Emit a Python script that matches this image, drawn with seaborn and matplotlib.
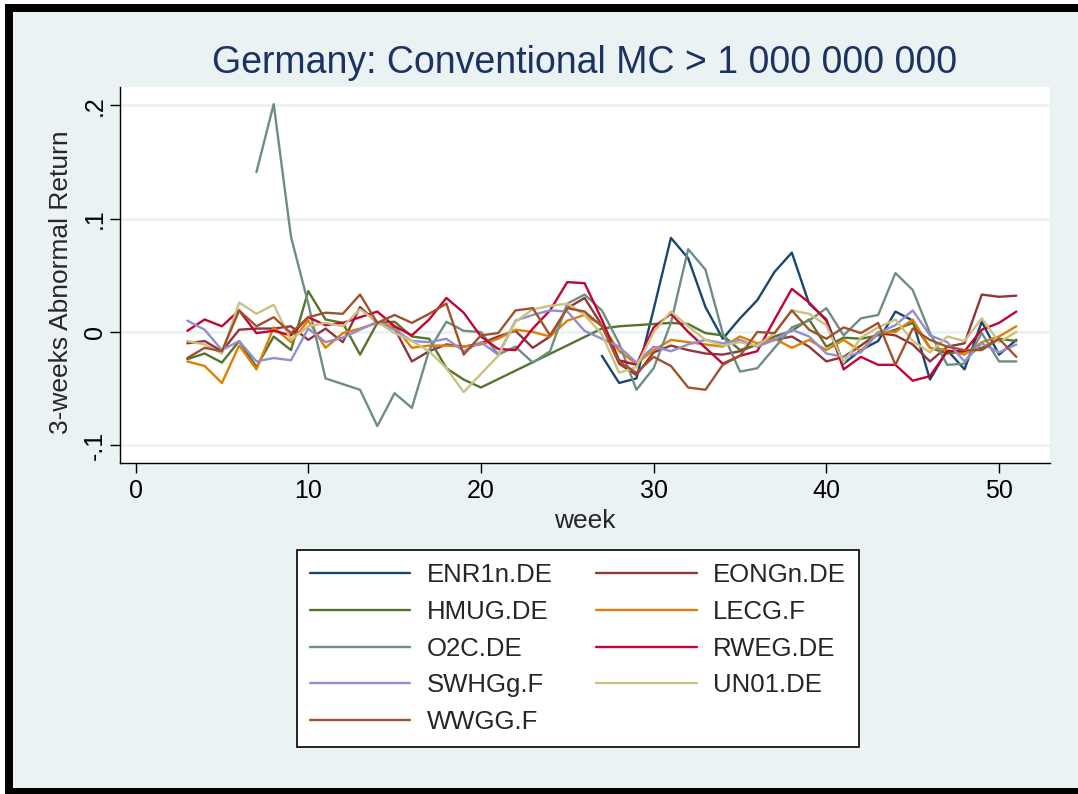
"""
Germany: conventional firms with market cap above 1bn,
weekly 3-weeks abnormal returns per stock (Stata s2color look).
"""

import numpy as np
import pandas as pd
import matplotlib
matplotlib.use("Agg")
import matplotlib.pyplot as plt
from matplotlib.lines import Line2D
from matplotlib.patches import Rectangle
import seaborn as sns

nan = np.nan

# x values
weeks = [3, 4, 5, 6, 7, 8, 9, 10, 11, 12, 13, 14, 15, 16, 17, 18, 19, 20, 21, 22,
         23, 24, 25, 26, 27, 28, 29, 30, 31, 32, 33, 34, 35, 36, 37, 38, 39, 40, 41, 42,
         43, 44, 45, 46, 47, 48, 49, 50, 51]

# one list per stock, weeks 3..51 (nan = no observation)
enr1n_de = [nan] * 24 + [
    -0.021, -0.045, -0.041, 0.020, 0.083, 0.065, 0.022, -0.006, 0.012, 0.028,
    0.053, 0.070, 0.025, 0.011, -0.028, -0.016, -0.008, 0.018, 0.010, -0.042,
    -0.016, -0.033, 0.009, -0.020, -0.007]
eongn_de = [
    -0.010, -0.008, -0.017, 0.002, 0.003, 0.003, 0.005, -0.007, 0.003, -0.009,
    0.022, 0.008, 0.003, -0.026, -0.017, -0.011, -0.013, -0.010, -0.004, 0.001,
    -0.014, -0.004, 0.021, 0.030, 0.006, -0.028, -0.038, -0.018, -0.012, -0.016,
    -0.019, -0.020, -0.017, -0.011, -0.007, -0.004, -0.013, -0.026, -0.022, -0.012,
    -0.001, -0.003, -0.011, -0.026, -0.013, -0.010, 0.033, 0.031, 0.032]
hmug_de = [
    -0.024, -0.019, -0.027, -0.008, -0.031, -0.004, -0.016, 0.036, 0.011, 0.008,
    -0.020, 0.008, 0.009, -0.004, -0.006, -0.032, -0.042, -0.049, nan, nan,
    nan, nan, nan, nan, 0.003, 0.005, 0.006, 0.007, 0.008, 0.007,
    -0.001, -0.003, -0.016, -0.011, -0.004, 0.001, 0.011, -0.013, -0.005, -0.006,
    -0.003, 0.002, 0.008, -0.014, -0.019, -0.017, -0.014, -0.006, -0.008]
lecg_f = [
    -0.026, -0.030, -0.045, -0.012, -0.033, 0.004, -0.009, 0.010, -0.014, -0.001,
    0.003, 0.008, 0.005, -0.014, -0.012, -0.012, -0.013, -0.011, -0.006, 0.002,
    0.000, -0.004, 0.010, 0.015, 0.006, -0.017, -0.028, -0.016, -0.007, -0.009,
    -0.011, -0.013, -0.004, -0.010, -0.006, -0.014, -0.007, -0.016, -0.007, -0.017,
    0.000, 0.000, 0.011, -0.014, -0.016, -0.020, -0.009, -0.004, 0.005]
o2c_de = [
    nan, nan, nan, nan, 0.141, 0.201, 0.084, 0.025, -0.041, -0.046,
    -0.051, -0.083, -0.054, -0.067, -0.016, 0.009, 0.001, 0.000, -0.020, -0.013,
    -0.027, -0.017, 0.025, 0.033, 0.019, -0.010, -0.051, -0.032, 0.008, 0.073,
    0.055, -0.001, -0.035, -0.032, -0.014, 0.004, 0.010, 0.021, -0.003, 0.012,
    0.015, 0.052, 0.037, -0.001, -0.029, -0.028, -0.001, -0.026, -0.026]
rweg_de = [
    0.001, 0.011, 0.005, 0.019, -0.001, 0.001, -0.003, 0.013, 0.006, 0.008,
    0.013, 0.018, 0.005, -0.003, 0.011, 0.030, 0.017, -0.004, -0.015, -0.016,
    0.003, 0.019, 0.044, 0.043, 0.011, -0.025, -0.029, 0.004, 0.016, 0.000,
    -0.014, -0.028, -0.021, -0.017, 0.011, 0.038, 0.026, 0.010, -0.033, -0.022,
    -0.029, -0.029, -0.043, -0.039, -0.017, -0.017, 0.002, 0.008, 0.018]
swhgg_f = [
    0.010, 0.002, -0.016, -0.008, -0.026, -0.023, -0.025, 0.003, -0.009, -0.005,
    0.002, 0.009, 0.002, -0.008, -0.009, -0.006, -0.017, -0.009, -0.020, 0.010,
    0.015, 0.019, 0.018, 0.001, -0.006, -0.013, -0.027, -0.013, -0.017, -0.011,
    -0.007, -0.010, -0.007, -0.013, -0.007, 0.002, -0.004, -0.019, -0.022, -0.018,
    -0.001, 0.006, 0.019, -0.003, -0.009, -0.026, -0.010, -0.018, -0.011]
un01_de = [
    -0.008, -0.011, -0.019, 0.026, 0.016, 0.024, -0.007, 0.005, 0.008, 0.005,
    0.020, 0.009, -0.001, -0.008, -0.017, -0.032, -0.053, -0.037, -0.021, 0.009,
    0.020, 0.023, 0.025, 0.015, -0.002, -0.036, -0.031, 0.000, 0.018, 0.005,
    -0.007, -0.012, -0.009, -0.012, -0.001, 0.019, 0.016, 0.006, -0.027, -0.005,
    0.004, 0.011, -0.008, -0.018, -0.004, -0.008, 0.012, -0.009, 0.000]
wwgg_f = [
    -0.023, -0.014, -0.017, 0.019, 0.005, 0.013, -0.001, 0.013, 0.017, 0.016,
    0.033, 0.008, 0.015, 0.008, 0.016, 0.025, -0.020, -0.003, -0.001, 0.019,
    0.021, -0.003, 0.021, 0.018, 0.005, -0.026, -0.036, -0.022, -0.030, -0.049,
    -0.051, -0.029, -0.021, 0.000, -0.001, 0.019, 0.002, -0.006, 0.004, -0.001,
    0.008, -0.029, 0.003, -0.007, -0.013, -0.016, -0.016, -0.006, -0.022]

tickers = ["ENR1n.DE", "EONGn.DE", "HMUG.DE", "LECG.F", "O2C.DE",
           "RWEG.DE", "SWHGg.F", "UN01.DE", "WWGG.F"]
series = [enr1n_de, eongn_de, hmug_de, lecg_f, o2c_de,
          rweg_de, swhgg_f, un01_de, wwgg_f]

# stata s2color palette
colors = ["#1A476F", "#90353B", "#55752F", "#E37E00", "#6E8E84",
          "#C10534", "#938DD2", "#CAC27E", "#A0522D"]

y_ticks = [-0.1, 0.0, 0.1, 0.2]
y_tick_labels = ["-.1", "0", ".1", ".2"]
x_ticks = [0, 10, 20, 30, 40, 50]

BG = "#EAF2F3"
W, H = 1078, 794

# Build long table, missing weeks dropped so lines connect (stata default)
frames = []
for name, vals in zip(tickers, series):
    frames.append(pd.DataFrame({"week": weeks, "ret": vals, "ticker": name}))
df = pd.concat(frames, ignore_index=True).dropna()

sns.set_style("white")
plt.rcParams["font.family"] = ["Liberation Sans", "DejaVu Sans"]

fig = plt.figure(figsize=(W / 100, H / 100), dpi=100)
fig.patch.set_facecolor(BG)

# plot region in pixels: x 120..1050, y 87..463
ax = fig.add_axes([120 / W, (H - 463) / H, 930 / W, 376 / H])
ax.set_facecolor("white")

sns.lineplot(data=df, x="week", y="ret", hue="ticker", hue_order=tickers,
             palette=colors, estimator=None, linewidth=1.7, legend=False, ax=ax)

ax.set_xlim(-0.9, 52.95)
ax.set_ylim(-0.1156, 0.2161)
ax.set_xticks(x_ticks)
ax.set_yticks(y_ticks, labels=y_tick_labels)
ax.yaxis.grid(True, color=BG, linewidth=2)
ax.xaxis.grid(False)
ax.set_axisbelow(True)

for side in ["top", "right"]:
    ax.spines[side].set_visible(False)
for side in ["left", "bottom"]:
    ax.spines[side].set_color("black")
    ax.spines[side].set_linewidth(1.0)

ax.tick_params(direction="out", length=7.5, width=1, color="black",
               labelsize=18, labelcolor="black", left=True, bottom=True)
ax.tick_params(axis="x", pad=4)
ax.tick_params(axis="y", labelrotation=90, pad=2)
for lbl in ax.get_yticklabels():
    lbl.set_va("center")

ax.set_xlabel("week", fontsize=19, labelpad=4)
ax.set_ylabel("3-weeks Abnormal Return", fontsize=19)
ax.yaxis.set_label_coords(-0.05, 0.48)

fig.text(585 / W, 1 - 73 / H, "Germany: Conventional MC > 1 000 000 000",
         ha="center", va="baseline", fontsize=27, color="#1C3260")

# legend, two columns filled row-wise like stata
order = [0, 2, 4, 6, 8, 1, 3, 5, 7]
handles = [Line2D([], [], color=colors[i], lw=1.7) for i in order]
labels = [tickers[i] for i in order]
leg = fig.legend(handles, labels, ncol=2, loc="upper left",
                 bbox_to_anchor=(297 / W, (H - 550) / H),
                 fontsize=18.5, frameon=True, fancybox=False,
                 handlelength=3.9, handletextpad=0.65, labelspacing=0.5,
                 borderpad=0.5, columnspacing=1.7, borderaxespad=0)
leg.get_frame().set_edgecolor("black")
leg.get_frame().set_linewidth(1.2)
leg.get_frame().set_facecolor("white")
leg.get_frame().set_alpha(1)

# screenshot frame: white margin, then black bar on top, left and bottom
def px_rect(x0, y0, x1, y1, color):
    fig.add_artist(Rectangle((x0 / W, 1 - y1 / H), (x1 - x0) / W, (y1 - y0) / H,
                             transform=fig.transFigure, color=color, lw=0))

px_rect(0, 0, W, 4, "white")
px_rect(0, 0, 5, H, "white")
px_rect(5, 4, W, 12, "black")
px_rect(5, 4, 13, 789, "black")
px_rect(5, 788, W, H, "black")

fig.savefig("out.png", dpi=100, facecolor=fig.get_facecolor())
plt.close(fig)
